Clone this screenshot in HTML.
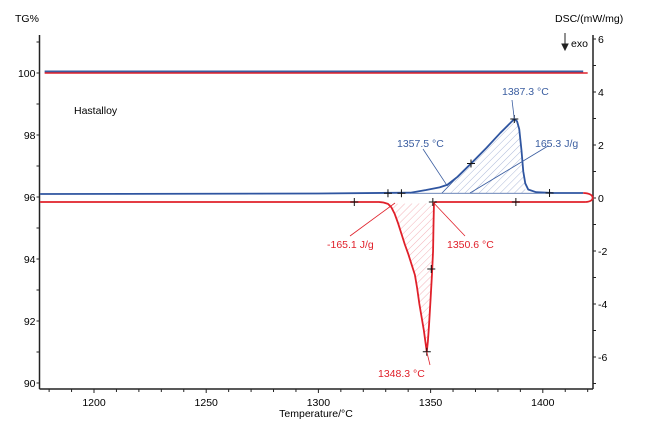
<!DOCTYPE html>
<html><head><meta charset="utf-8">
<style>
body{margin:0;background:#fff;}
svg{display:block;font-family:"Liberation Sans",sans-serif;}
</style></head>
<body>
<svg id="chart" width="645" height="425" viewBox="0 0 645 425" xmlns="http://www.w3.org/2000/svg">
<defs>
<pattern id="hatchBlue" patternUnits="userSpaceOnUse" width="5" height="5" patternTransform="rotate(45)"><line x1="0" y1="0" x2="0" y2="5" stroke="#9aaad0" stroke-width="0.8"/></pattern>
<pattern id="hatchRed" patternUnits="userSpaceOnUse" width="5" height="5" patternTransform="rotate(45)"><line x1="0" y1="0" x2="0" y2="5" stroke="#f0a0a8" stroke-width="0.8"/></pattern>
</defs>
<g id="layer"></g>
</svg>
<script>
const xTicks=[1200,1250,1300,1350,1400];
const tgTicks=[90,92,94,96,98,100];
const dscTicks=[-6,-4,-2,0,2,4,6];
const blueTemp=[1176,1300,1341,1348,1354,1357.5,1362,1368,1375,1381,1387.3,1388.5,1389.5,1390.5,1391.3,1392.2,1393.5,1397,1405,1418];
const blueDsc=[0.15,0.17,0.2,0.3,0.4,0.5,0.8,1.3,1.9,2.45,2.98,2.9,2.6,1.8,1.0,0.55,0.32,0.22,0.19,0.19];
const redTemp=[1419,1390,1352,1351.5,1351.3,1351.1,1350.6,1350,1349.3,1348.8,1348.3,1347.8,1347,1346,1345,1344,1343,1341.5,1340,1338.5,1337,1335.5,1334,1332.5,1331,1329,1327,1300,1176];
const redDsc=[-0.15,-0.15,-0.15,-0.2,-1.0,-2.0,-2.9,-3.8,-4.8,-5.4,-5.8,-5.5,-5.0,-4.5,-4.0,-3.4,-2.9,-2.5,-2.1,-1.75,-1.35,-0.95,-0.6,-0.35,-0.22,-0.17,-0.15,-0.15,-0.15];
const tgBlue=[[1178,100.05],[1418,100.05]];
const tgRed=[[1178,100.0],[1420,100.0]];
const blueMarks=[[1331,0.18],[1337,0.18],[1368,1.3],[1387.3,2.98],[1403,0.19]];
const redMarks=[[1316,-0.15],[1351,-0.15],[1350.3,-2.68],[1348.3,-5.8],[1388,-0.15]];

const L=39.5,R=593,T=35,B=389;
const X=t=>94+(t-1200)*2.244;
const YT=v=>73+(100-v)*31;
const YD=v=>198-v*26.5;
const g=document.getElementById('layer');
const NS='http://www.w3.org/2000/svg';
function el(tag,attrs,parent){const e=document.createElementNS(NS,tag);for(const k in attrs)e.setAttribute(k,attrs[k]);(parent||g).appendChild(e);return e;}
function txt(s,x,y,attrs){const e=el('text',Object.assign({x:x,y:y,'font-size':10.5},attrs));e.textContent=s;return e;}

let a=el('line',{x1:L,y1:T,x2:L,y2:B,stroke:'#222','stroke-width':1.5});

a=el('line',{x1:R,y1:T,x2:R,y2:B,stroke:'#222','stroke-width':1.5});

a=el('line',{x1:L,y1:B,x2:R,y2:B,stroke:'#222','stroke-width':1.5});

for(let t=1180;t<=1420;t+=10){el('line',{x1:X(t),y1:B,x2:X(t),y2:B+(t%50===0?4:3),stroke:'#222'});}
xTicks.forEach(t=>{const e=txt(t,X(t),406,{'text-anchor':'middle'});});
for(let v=90;v<=101;v+=1){el('line',{x1:L-3,y1:YT(v),x2:L,y2:YT(v),stroke:'#222'});}
tgTicks.forEach(v=>{const e=txt(v,L-4,YT(v)+4,{'text-anchor':'end'});});
for(let v=-7;v<=6;v+=1){el('line',{x1:R,y1:YD(v),x2:R+3,y2:YD(v),stroke:'#222'});}
dscTicks.forEach(v=>{const e=txt(v,R+5,YD(v)+4,{});});
a=txt('Temperature/°C',316,417,{'text-anchor':'middle'});
a=txt('TG%',15,22,{});
a=txt('DSC/(mW/mg)',555,22,{});
a=txt('exo',571,47,{});
a=el('path',{d:'M565 33 V48 M562 44 L565 50 L568 44 Z',stroke:'#222',fill:'#222','stroke-width':1});

a=txt('Hastalloy',74,114,{});

let pts=[];blueTemp.forEach((t,i)=>{if(t>=1358&&t<=1392.2)pts.push([X(t),YD(blueDsc[i])]);});
let d='M'+X(1358)+' '+YD(0.18)+' '+pts.map(p=>'L'+p[0]+' '+p[1]).join(' ')+' L'+X(1392.2)+' '+YD(0.18)+'Z';
a=el('path',{d:d,fill:'url(#hatchBlue)'});
pts=[];redTemp.forEach((t,i)=>{if(t>=1330&&t<=1351.5)pts.push([X(t),YD(redDsc[i])]);});
d='M'+pts.map(p=>p[0]+' '+p[1]).join(' L')+'Z';
a=el('path',{d:d,fill:'url(#hatchRed)'});
a=el('line',{x1:X(1355),y1:YD(0.18),x2:X(1362),y2:YD(0.8),stroke:'#3a5da0','stroke-width':0.8});
a=el('line',{x1:X(1341),y1:YD(0.18),x2:X(1405),y2:YD(0.18),stroke:'#3a5da0','stroke-width':0.8});

a=el('polyline',{points:tgBlue.map(p=>X(p[0])+','+YT(p[1])).join(' '),fill:'none',stroke:'#3a5da0','stroke-width':2});

a=el('polyline',{points:tgRed.map(p=>X(p[0])+','+YT(p[1])).join(' '),fill:'none',stroke:'#e0202a','stroke-width':1.5});


a=el('polyline',{points:blueTemp.map((t,i)=>X(t)+','+YD(blueDsc[i])).join(' '),fill:'none',stroke:'#2f55a0','stroke-width':1.8,'stroke-linejoin':'round'});

a=el('polyline',{points:redTemp.map((t,i)=>X(t)+','+YD(redDsc[i])).join(' '),fill:'none',stroke:'#e0202a','stroke-width':1.8,'stroke-linejoin':'round'});

const xe=X(1418),xr=X(1419);
a=el('path',{d:`M${xe} ${YD(0.19)} C${xr+10} ${YD(0.19)} ${xr+10} ${YD(-0.15)} ${xr} ${YD(-0.15)}`,fill:'none',stroke:'#e0202a','stroke-width':1.8});


function cross(t,v){const x=X(t),y=YD(v);const e=el('path',{d:`M${x-4} ${y} H${x+4} M${x} ${y-4} V${y+4}`,stroke:'#111','stroke-width':1});
}
blueMarks.forEach(m=>cross(m[0],m[1]));redMarks.forEach(m=>cross(m[0],m[1]));

function ann(s,tx,ty,lx1,ly1,lx2,ly2,col,name){el('line',{x1:lx1,y1:ly1,x2:lx2,y2:ly2,stroke:col,'stroke-width':0.8});
const e=txt(s,tx,ty,{fill:col});}
ann('1387.3 °C',502,95,512,100,X(1387.3),YD(2.98),'#3a5da0','peak-heating-label');
ann('1357.5 °C',397,147,423,149,X(1357.5),YD(0.45),'#3a5da0','onset-heating-label');
ann('165.3 J/g',535,147,548,146,470,193,'#3a5da0','enthalpy-heating-label');
ann('-165.1 J/g',327,248,350,236,395,203,'#e0202a','enthalpy-cooling-label');
ann('1350.6 °C',447,248,465,236,X(1351),YD(-0.15),'#e0202a','onset-cooling-label');
ann('1348.3 °C',378,377,430,365,X(1348.3),YD(-5.8),'#e0202a','peak-cooling-label');
</script>
</body></html>
